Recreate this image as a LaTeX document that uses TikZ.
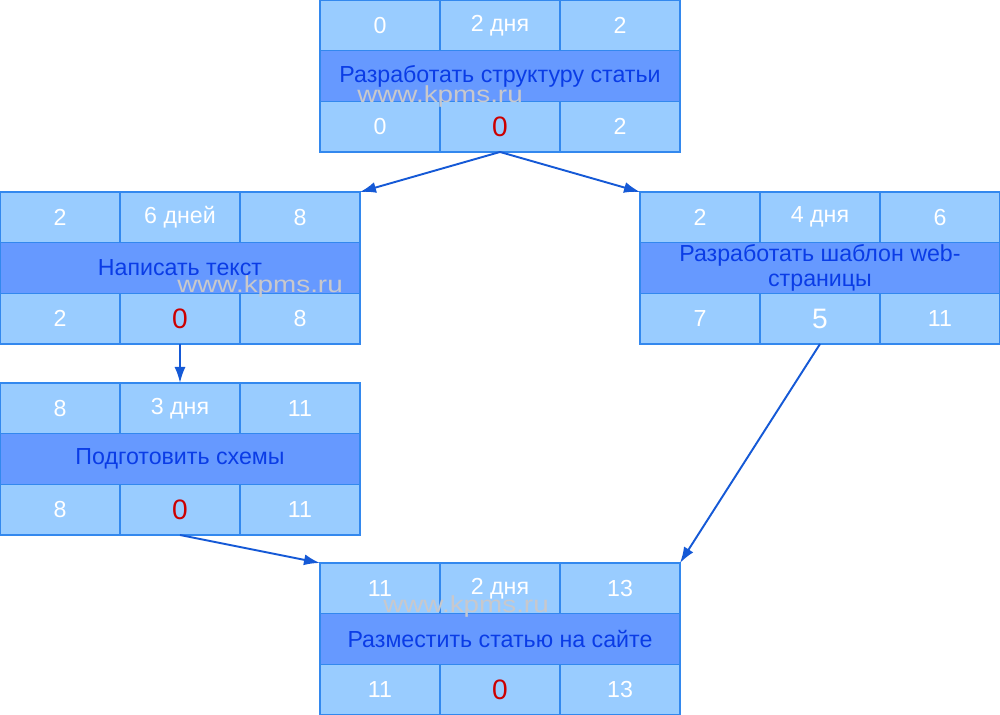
\documentclass[tikz,border=0pt]{standalone}
\usepackage{fontspec}
\setmainfont{Liberation Sans}
\usetikzlibrary{positioning,arrows.meta}
\definecolor{cellfill}{HTML}{99CCFF}
\definecolor{taskfill}{HTML}{6699FF}
\definecolor{cellline}{HTML}{3388EE}
\definecolor{tasktext}{HTML}{0A3CE6}
\definecolor{slackred}{HTML}{CC0000}
\definecolor{arrowblue}{HTML}{1559D6}
\definecolor{markgray}{HTML}{C8C8CC}
\tikzset{
    cell/.style = {draw = cellline, fill = cellfill, line width = 0.8pt, outer sep = 0pt, inner sep = 0pt,
        minimum width = 2.4cm, minimum height = 1.0133cm, text = white, font = \fontsize{13.2}{14}\selectfont},
    task/.style = {cell, minimum width = 7.2cm, fill = taskfill, text = tasktext, align = center},
    slack/.style = {cell, font = \fontsize{16}{18}\selectfont},
    critical/.style = {slack, text = slackred},
    link/.style = {arrowblue, line width = 1.1pt, -{Latex[length = 3.2mm, width = 2.2mm]}},
    watermark/.style = {text = markgray, font = \fontsize{13.2}{14}\selectfont, xscale = 1.2, transform shape}
}
\begin{document}
\begin{tikzpicture}
    \useasboundingbox (0,0) rectangle (20,14.3);
    % Разработать структуру статьи
    \node[task] (a) at (10,12.78) {Разработать структуру статьи};
    \node[cell, above = 0pt of a] (a-d) {2 дня};
    \node[cell, left = 0pt of a-d] (a-es) {0};
    \node[cell, right = 0pt of a-d] (a-ef) {2};
    \node[critical, below = 0pt of a] (a-sl) {0};
    \node[cell, left = 0pt of a-sl] (a-ls) {0};
    \node[cell, right = 0pt of a-sl] (a-lf) {2};
    % Написать текст
    \node[task] (b) at (3.6,8.94) {Написать текст};
    \node[cell, above = 0pt of b] (b-d) {6 дней};
    \node[cell, left = 0pt of b-d] (b-es) {2};
    \node[cell, right = 0pt of b-d] (b-ef) {8};
    \node[critical, below = 0pt of b] (b-sl) {0};
    \node[cell, left = 0pt of b-sl] (b-ls) {2};
    \node[cell, right = 0pt of b-sl] (b-lf) {8};
    % Разработать шаблон web-страницы
    \node[task] (c) at (16.4,8.94) {Разработать шаблон web-\\страницы};
    \node[cell, above = 0pt of c] (c-d) {4 дня};
    \node[cell, left = 0pt of c-d] (c-es) {2};
    \node[cell, right = 0pt of c-d] (c-ef) {6};
    \node[slack, below = 0pt of c] (c-sl) {5};
    \node[cell, left = 0pt of c-sl] (c-ls) {7};
    \node[cell, right = 0pt of c-sl] (c-lf) {11};
    % Подготовить схемы
    \node[task] (d) at (3.6,5.12) {Подготовить схемы};
    \node[cell, above = 0pt of d] (d-d) {3 дня};
    \node[cell, left = 0pt of d-d] (d-es) {8};
    \node[cell, right = 0pt of d-d] (d-ef) {11};
    \node[critical, below = 0pt of d] (d-sl) {0};
    \node[cell, left = 0pt of d-sl] (d-ls) {8};
    \node[cell, right = 0pt of d-sl] (d-lf) {11};
    % Разместить статью на сайте
    \node[task] (e) at (10,1.52) {Разместить статью на сайте};
    \node[cell, above = 0pt of e] (e-d) {2 дня};
    \node[cell, left = 0pt of e-d] (e-es) {11};
    \node[cell, right = 0pt of e-d] (e-ef) {13};
    \node[critical, below = 0pt of e] (e-sl) {0};
    \node[cell, left = 0pt of e-sl] (e-ls) {11};
    \node[cell, right = 0pt of e-sl] (e-lf) {13};
    % связи
    \draw[link] (a-sl.south) -- (b-ef.north east);
    \draw[link] (a-sl.south) -- (c-es.north west);
    \draw[link] (b-sl.south) -- (d-d.north);
    \draw[link] (d-sl.south) -- (e-es.north west);
    \draw[link] (c-sl.south) -- (e-ef.north east);
    \node[watermark] (wm-a) at (8.8,12.36) {www.kpms.ru};
    \node[watermark] (wm-b) at (5.2,8.56) {www.kpms.ru};
    \node[watermark] (wm-e) at (9.32,2.16) {www.kpms.ru};
\end{tikzpicture}
\end{document}
